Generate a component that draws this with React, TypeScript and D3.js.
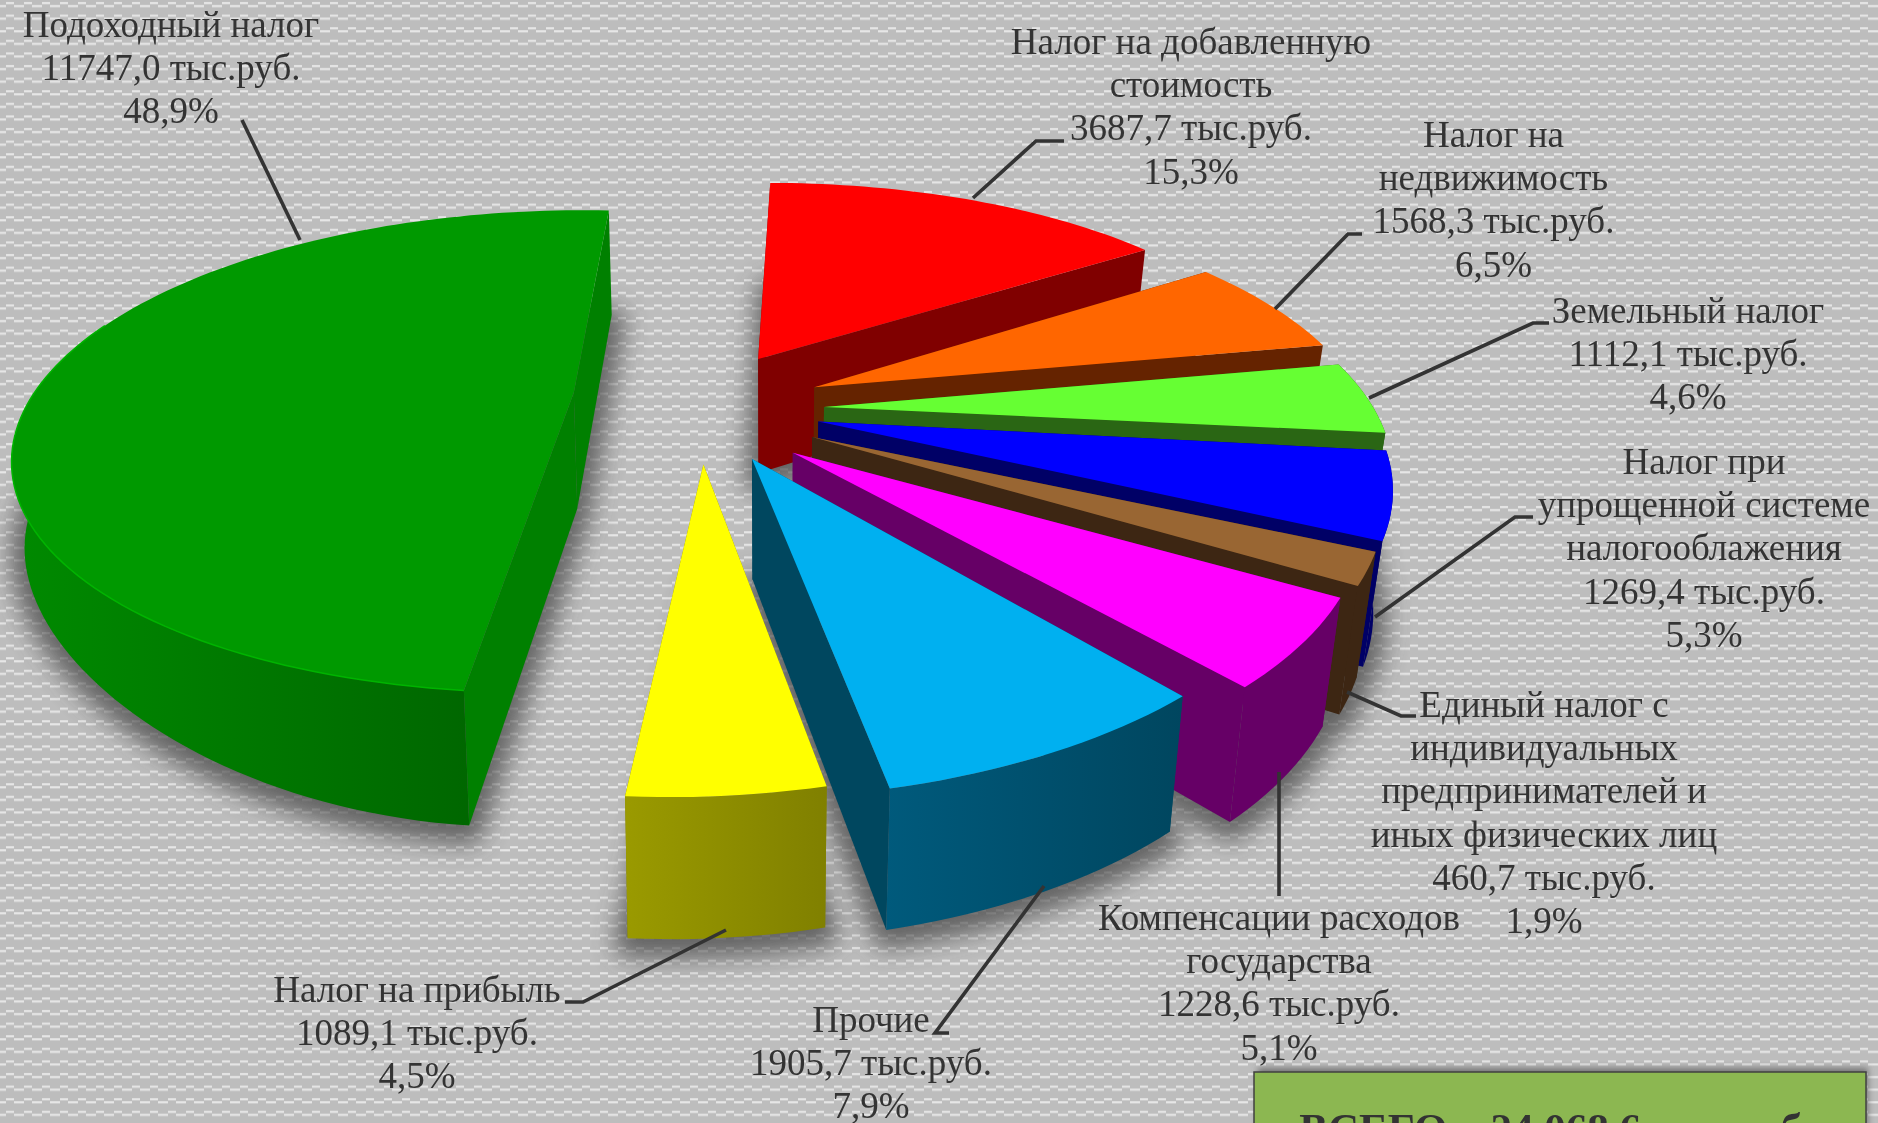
import React from "react";
import * as d3 from "d3";

const sliceNames = [
  ["Налог на добавленную", "стоимость"],
  ["Налог на", "недвижимость"],
  ["Земельный налог"],
  ["Налог при", "упрощенной системе", "налогооблажения"],
  ["Единый налог с", "индивидуальных", "предпринимателей и", "иных физических лиц"],
  ["Компенсации расходов", "государства"],
  ["Прочие"],
  ["Налог на прибыль"],
  ["Подоходный налог"],
];
const sliceValues = [3687.7, 1568.3, 1112.1, 1269.4, 460.7, 1228.6, 1905.7, 1089.1, 11747.0];
const slicePercents = ["15,3%", "6,5%", "4,6%", "5,3%", "1,9%", "5,1%", "7,9%", "4,5%", "48,9%"];
const totalLabel = "ВСЕГО – 24 068,6 тыс.руб.";

const topColors = ["#ff0000", "#ff6600", "#66ff33", "#0000ff", "#996633", "#ff00ff", "#00b0f0", "#ffff00", "#009900"];
const edgeColors = ["#800000", "#652300", "#2a6614", "#000066", "#3d2613", "#660066", "#00475f", "#808000", "#008000"];
const rimFrom = ["#800000", "#652300", "#2a6614", "#000066", "#3d2613", "#660066", "#005a7c", "#9a9a00", "#008a00"];
const rimTo = ["#800000", "#652300", "#2a6614", "#000066", "#3d2613", "#660066", "#00465f", "#808000", "#005c00"];

// exploded offset of each slice on the pie plane, in radii
const explodeX = [-0.099, 0.011, 0.029, 0.018, 0.0065, -0.028, -0.1, -0.185, -0.445];
const explodeY = [-0.24, -0.111, -0.025, 0.035, 0.098, 0.16, 0.184, 0.205, -0.088];
const radiusScale = [1.035, 1.035, 1.025, 1.02, 1, 0.985, 0.97, 0.945, 1];
const rotationDeg = [0.3, 0.5, 0.7, 1.3, 0, -1.3, -0.4, -0.8, -1.5];
const screenShear = [0, 0, 0, 0, 0, 0, 0, 0, 0.03];

// camera
const VX = 808.5, HORIZON = -539, PLANE = 952, WIDTH_SCALE = 539, TILT = 0.25;
const project = (X: number, Y: number): [number, number] => {
  const w = 1 - TILT * Y;
  return [VX + (WIDTH_SCALE * X) / w, HORIZON + PLANE / w];
};
const extrude = ([x, y]: [number, number]): [number, number] => {
  const falloff = x < 467 ? 1 - 0.3 * ((467 - x) / 467) ** 2 : 1;
  return [x + (778 - x) * (x < 778 ? 0.017 : 0.032), y + (91 + 0.064 * y) * falloff];
};
// the side wall shows only where the rim faces the viewer
const RIM_FROM = (78 * Math.PI) / 180, RIM_TO = (285 * Math.PI) / 180;

const labelCx = [1191, 1493.5, 1688, 1704, 1544, 1279, 871, 417, 171];
const labelTop = [54, 147, 323, 474, 717, 930, 1032, 1002, 37];
const LINE = 43.2;
const leaders: [number, number][][] = [
  [[1064, 141], [1036, 141], [973, 198]],
  [[1362, 234], [1348, 234], [1275, 309]],
  [[1549, 323], [1533, 323], [1369, 398]],
  [[1533, 517], [1515, 517], [1375, 617]],
  [[1416, 716], [1401, 716], [1347, 692]],
  [[1279, 896], [1279, 772]],
  [[949, 1033], [935, 1033], [1044, 886]],
  [[565, 1002], [583, 1002], [726, 930]],
  [[242, 120], [300, 240]],
];

const fmt = (v: number) => v.toFixed(1).replace(".", ",") + " тыс.руб.";
const line = d3.line<[number, number]>();

export default function App() {
  const arcs = d3.pie<number>().sort(null).value((d) => d).startAngle(0).endAngle(2 * Math.PI)(sliceValues);
  const slices = arcs.map((a, i) => {
    const rot = (rotationDeg[i] * Math.PI) / 180;
    const s = a.startAngle + rot, e = a.endAngle + rot;
    const r = radiusScale[i];
    const cx = explodeX[i], cy = explodeY[i];
    const n = Math.max(8, Math.ceil((e - s) * 40));
    const angles = d3.range(n + 1).map((k) => s + ((e - s) * k) / n);
    const apex = project(cx, cy);
    const sheared = ([x, y]: [number, number]): [number, number] => [x, y + screenShear[i] * (x - apex[0])];
    const at = (t: number) => sheared(project(cx + r * Math.sin(t), cy - r * Math.cos(t)));
    const rim = angles.map(at);
    const rimB = rim.map(extrude);
    const front = angles.filter((t) => t >= RIM_FROM && t <= RIM_TO).map(at);
    const apexB = extrude(apex);
    return { i, apex, apexB, rim, rimB, front, frontB: front.map(extrude), top: [apex, ...rim], base: [apexB, ...rimB] };
  });

  return (
    <svg width={1878} height={1123} style={{ position: "fixed", left: 0, top: 0, display: "block" }}>
      <defs>
        <pattern id="bg" width={18} height={12.6} patternUnits="userSpaceOnUse">
          <rect width={18} height={12.6} fill="#bdbdbd" />
          <g fill="#e6e6e6">
            <rect x={6} y={2} width={8} height={2.2} />
            <rect x={0} y={5} width={6} height={2.2} />
            <rect x={14} y={5} width={4} height={2.2} />
          </g>
        </pattern>
        <filter id="blur" x="-20%" y="-20%" width="140%" height="140%">
          <feGaussianBlur stdDeviation={12} />
        </filter>
        <filter id="boxShadow" x="-5%" y="-20%" width="110%" height="140%">
          <feGaussianBlur stdDeviation={3} />
        </filter>
        {slices.map((s) => {
          const [x0, x1] = d3.extent(s.rim.concat(s.rimB), (p) => p[0]) as [number, number];
          return (
            <linearGradient key={s.i} id={`rim${s.i}`} gradientUnits="userSpaceOnUse" x1={x0} x2={x1} y1={0} y2={0}>
              <stop offset="0" stopColor={rimFrom[s.i]} />
              <stop offset="1" stopColor={rimTo[s.i]} />
            </linearGradient>
          );
        })}
      </defs>
      <rect width={1878} height={1123} fill="url(#bg)" />

      <g filter="url(#blur)" opacity={0.75}>
        {slices.map((s) => (
          <path
            key={s.i}
            d={line(s.base)! + "Z"}
            fill="#444"
            stroke="#444"
            strokeWidth={26}
            strokeLinejoin="round"
            transform="translate(0,6)"
          />
        ))}
      </g>

      {slices.map((s) => {
        const last = s.rim.length - 1;
        return (
          <g key={s.i}>
            <path d={line([s.apex, s.rim[0], s.rimB[0], s.apexB])! + "Z"} fill={edgeColors[s.i]} />
            <path d={line([s.apex, s.rim[last], s.rimB[last], s.apexB])! + "Z"} fill={edgeColors[s.i]} />
            {s.front.length > 1 && (
              <path d={line([...s.front, ...[...s.frontB].reverse()])! + "Z"} fill={`url(#rim${s.i})`} />
            )}
            <path d={line(s.top)! + "Z"} fill={topColors[s.i]} />
            {s.i === 8 && <path d={line(s.front)!} fill="none" stroke="#00b400" strokeWidth={1.5} />}
          </g>
        );
      })}

      <g fill="none" stroke="#333" strokeWidth={3.6}>
        {leaders.map((l, i) => (
          <path key={i} d={line(l)!} />
        ))}
      </g>

      <g fontFamily="'Liberation Serif', serif" fontSize={37} fill="#333" textAnchor="middle">
        {sliceValues.map((v, i) => {
          const lines = [...sliceNames[i], fmt(v), slicePercents[i]];
          return (
            <text key={i}>
              {lines.map((t, k) => (
                <tspan key={k} x={labelCx[i]} y={labelTop[i] + k * LINE}>
                  {t}
                </tspan>
              ))}
            </text>
          );
        })}
      </g>

      <rect x={1258} y={1068} width={610} height={70} fill="#555" filter="url(#boxShadow)" opacity={0.7} />
      <rect x={1254} y={1072} width={612} height={70} fill="#8cb751" stroke="#404040" strokeWidth={1.5} />
      <text x={1556} y={1143} fontFamily="'Liberation Serif', serif" fontWeight="bold" fontSize={43} fill="#333" textAnchor="middle">
        {totalLabel}
      </text>
    </svg>
  );
}
